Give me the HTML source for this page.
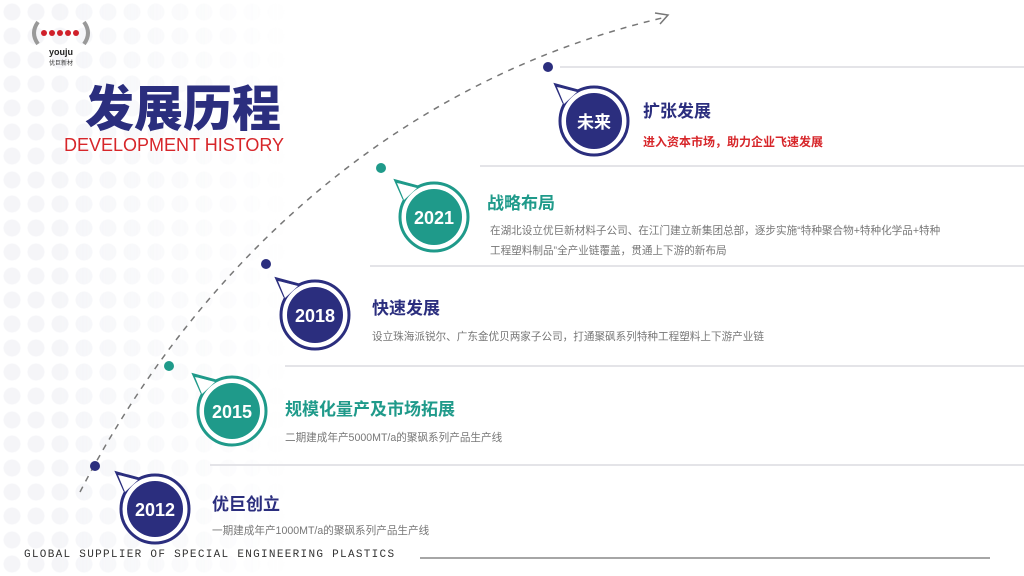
<!DOCTYPE html>
<html><head><meta charset="utf-8"><style>
body{margin:0;width:1024px;height:576px;overflow:hidden;background:#fff;position:relative;font-family:"Liberation Sans","Noto Sans CJK SC",sans-serif}
.bg{position:absolute;left:0;top:0;width:300px;height:576px;background-image:radial-gradient(circle,#f1f2f6 8px,transparent 9px);background-size:24px 24px;opacity:.7;-webkit-mask-image:linear-gradient(90deg,#000 20%,transparent);mask-image:linear-gradient(90deg,#000 20%,transparent)}
.t{position:absolute;white-space:nowrap}
.h{font-size:17px;font-weight:bold}
.g{font-size:10.6px;color:#777;line-height:20px}
.line{position:absolute;height:2px;background:#e4e4e8}
</style></head><body>
<div class="bg"></div>
<svg width="1024" height="576" style="position:absolute;left:0;top:0">
<path d="M80,492 C200,260 400,80 662,18" fill="none" stroke="#777" stroke-width="1.5" stroke-dasharray="6,6"/>
<path d="M655,13 L668,15 L660,24" fill="none" stroke="#777" stroke-width="1.5"/>
<g fill="#2b2e7e"><circle cx="548" cy="67" r="5"/><circle cx="266" cy="264" r="5"/><circle cx="95" cy="466" r="5"/></g>
<g fill="#1f9a8a"><circle cx="381" cy="168" r="5"/><circle cx="169" cy="366" r="5"/></g>
<g font-family="Liberation Sans,Noto Sans CJK SC,sans-serif" font-weight="bold" fill="#fff" text-anchor="middle">
<g transform="translate(594,121)"><path d="M-30,-18 L-38,-36 L-16,-30" fill="#fff" stroke="#2b2e7e" stroke-width="3"/><circle r="34" fill="#fff" stroke="#2b2e7e" stroke-width="3"/><path d="M-30,-17 L-37,-34 L-17,-29" fill="#fff"/><circle r="28" fill="#2b2e7e"/><text y="7" font-size="17">未来</text></g>
<g transform="translate(434,217)"><path d="M-30,-18 L-38,-36 L-16,-30" fill="#fff" stroke="#1f9a8a" stroke-width="3"/><circle r="34" fill="#fff" stroke="#1f9a8a" stroke-width="3"/><path d="M-30,-17 L-37,-34 L-17,-29" fill="#fff"/><circle r="28" fill="#1f9a8a"/><text y="7" font-size="18">2021</text></g>
<g transform="translate(315,315)"><path d="M-30,-18 L-38,-36 L-16,-30" fill="#fff" stroke="#2b2e7e" stroke-width="3"/><circle r="34" fill="#fff" stroke="#2b2e7e" stroke-width="3"/><path d="M-30,-17 L-37,-34 L-17,-29" fill="#fff"/><circle r="28" fill="#2b2e7e"/><text y="7" font-size="18">2018</text></g>
<g transform="translate(232,411)"><path d="M-30,-18 L-38,-36 L-16,-30" fill="#fff" stroke="#1f9a8a" stroke-width="3"/><circle r="34" fill="#fff" stroke="#1f9a8a" stroke-width="3"/><path d="M-30,-17 L-37,-34 L-17,-29" fill="#fff"/><circle r="28" fill="#1f9a8a"/><text y="7" font-size="18">2015</text></g>
<g transform="translate(155,509)"><path d="M-30,-18 L-38,-36 L-16,-30" fill="#fff" stroke="#2b2e7e" stroke-width="3"/><circle r="34" fill="#fff" stroke="#2b2e7e" stroke-width="3"/><path d="M-30,-17 L-37,-34 L-17,-29" fill="#fff"/><circle r="28" fill="#2b2e7e"/><text y="7" font-size="18">2012</text></g>
</g>
<path d="M38,22 Q30,33 38,44" fill="none" stroke="#999" stroke-width="4"/><path d="M84,22 Q92,33 84,44" fill="none" stroke="#999" stroke-width="4"/>
<g fill="#d0202a"><circle cx="44" cy="33" r="3"/><circle cx="52" cy="33" r="3"/><circle cx="60" cy="33" r="3"/><circle cx="68" cy="33" r="3"/><circle cx="76" cy="33" r="3"/></g>
<text x="61" y="55" text-anchor="middle" font-size="9" font-weight="bold" fill="#222" font-family="Liberation Sans,sans-serif">youju</text>
<text x="61" y="65" text-anchor="middle" font-size="6" fill="#333" font-family="Noto Sans CJK SC,sans-serif">优巨新材</text>
<line x1="420" y1="558" x2="990" y2="558" stroke="#888" stroke-width="1.5"/>
</svg>
<div class="line" style="left:560px;top:66px;width:464px"></div>
<div class="line" style="left:480px;top:165px;width:544px"></div>
<div class="line" style="left:370px;top:265px;width:654px"></div>
<div class="line" style="left:285px;top:365px;width:739px"></div>
<div class="line" style="left:210px;top:464px;width:814px"></div>
<div class="t" style="left:85px;top:70px;font-size:49px;font-weight:900;color:#2b2e7e">发展历程</div>
<div class="t" style="left:64px;top:135px;font-size:18px;color:#d7262a">DEVELOPMENT HISTORY</div>
<div class="t h" style="left:643px;top:97px;color:#2b2e7e">扩张发展</div>
<div class="t" style="left:643px;top:133px;font-size:12px;font-weight:bold;color:#d7262a">进入资本市场，助力企业飞速发展</div>
<div class="t h" style="left:487px;top:189px;color:#1f9a8a">战略布局</div>
<div class="t g" style="left:490px;top:221px">在湖北设立优巨新材料子公司、在江门建立新集团总部，逐步实施“特种聚合物+特种化学品+特种<br>工程塑料制品”全产业链覆盖，贯通上下游的新布局</div>
<div class="t h" style="left:372px;top:294px;color:#2b2e7e">快速发展</div>
<div class="t g" style="left:372px;top:327px">设立珠海派锐尔、广东金优贝两家子公司，打通聚砜系列特种工程塑料上下游产业链</div>
<div class="t h" style="left:285px;top:395px;color:#1f9a8a">规模化量产及市场拓展</div>
<div class="t g" style="left:285px;top:428px">二期建成年产5000MT/a的聚砜系列产品生产线</div>
<div class="t h" style="left:212px;top:490px;color:#2b2e7e">优巨创立</div>
<div class="t g" style="left:212px;top:521px">一期建成年产1000MT/a的聚砜系列产品生产线</div>
<div class="t" style="left:24px;top:549px;font-size:11px;font-family:'Liberation Mono',monospace;letter-spacing:1.3px;color:#333">GLOBAL SUPPLIER OF SPECIAL ENGINEERING PLASTICS</div>
</body></html>
